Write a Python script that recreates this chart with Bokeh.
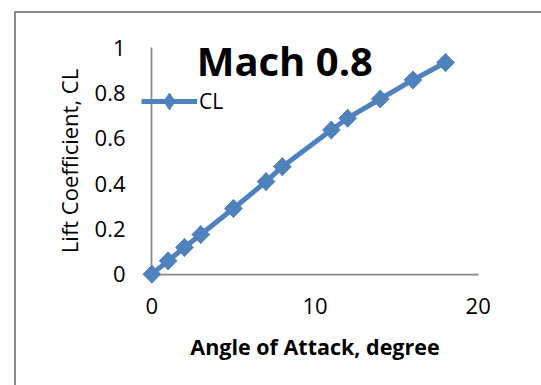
import math

from bokeh.embed import file_html
from bokeh.models import FixedTicker, Label, Legend, LegendItem, LinearAxis, Range1d
from bokeh.plotting import figure
from bokeh.resources import INLINE

# Lift curve at Mach 0.8
aoa_deg = [0, 1, 2, 3, 5, 7, 8, 11, 12, 14, 16, 18]
lift_coeff = [0, 0.059, 0.118, 0.175, 0.29, 0.409, 0.475, 0.637, 0.689, 0.774, 0.858, 0.935]

x_ticks = [0, 10, 20]
x_tick_labels = ["0", "10", "20"]
y_ticks = [0, 0.2, 0.4, 0.6, 0.8, 1]
y_tick_labels = ["0", "0.2", "0.4", "0.6", "0.8", "1"]

series_name = "CL"
chart_title = "Mach 0.8"
x_title = "Angle of Attack, degree"
y_title = "Lift Coefficient, CL"

BLUE = "#4f81bd"
AXIS_GREY = "#898989"
FONT = "Open Sans"

p = figure(
    frame_width=359,
    frame_height=249,
    x_range=Range1d(-1, 21),
    y_range=Range1d(-0.05, 1.05),
    min_border_left=119,
    min_border_right=47,
    min_border_top=23,
    min_border_bottom=100,
    output_backend="svg",
    toolbar_location=None,
)
p.margin = (11, 0, 0, 14)
p.styles = {"border-left": "2px solid #8c8c8c", "border-top": "2px solid #8c8c8c"}
p.outline_line_color = None
p.background_fill_color = "white"
p.border_fill_color = "white"
p.grid.visible = False

# labelled axes sit in the side panels; their own lines are hidden
xa = p.xaxis[0]
ya = p.yaxis[0]
xa.ticker = FixedTicker(ticks=x_ticks)
ya.ticker = FixedTicker(ticks=y_ticks)
xa.major_label_overrides = dict(zip(x_ticks, x_tick_labels))
ya.major_label_overrides = dict(zip(y_ticks, y_tick_labels))
xa.axis_label = x_title
ya.axis_label = y_title

for ax in (xa, ya):
    ax.axis_line_color = None
    ax.major_tick_line_color = None
    ax.minor_tick_line_color = None
    ax.major_tick_in = 0
    ax.major_tick_out = 0
    ax.minor_tick_in = 0
    ax.minor_tick_out = 0
    ax.major_label_text_font = FONT
    ax.major_label_text_font_size = "22px"
    ax.major_label_text_color = "black"
    ax.axis_label_text_font = FONT
    ax.axis_label_text_color = "black"
xa.major_label_standoff = 12
ya.major_label_standoff = 10
xa.axis_label_text_font_size = "21.5px"
xa.axis_label_text_font_style = "bold"
xa.axis_label_standoff = 15
ya.axis_label_text_font_size = "22px"
ya.axis_label_text_font_style = "normal"
ya.axis_label_standoff = 8

# axis lines crossing at the origin, limited to the data extent
x_line = LinearAxis(
    fixed_location=0, bounds=(0, 20), ticker=FixedTicker(ticks=[]),
    axis_line_color=AXIS_GREY, axis_line_width=1.75,
    major_tick_line_color=None, minor_tick_line_color=None,
    major_tick_out=0, minor_tick_out=0, major_label_text_alpha=0, level="underlay",
)
y_line = LinearAxis(
    fixed_location=0, bounds=(0, 1), ticker=FixedTicker(ticks=[]),
    axis_line_color=AXIS_GREY, axis_line_width=1.75,
    major_tick_line_color=None, minor_tick_line_color=None,
    major_tick_out=0, minor_tick_out=0, major_label_text_alpha=0, level="underlay",
)
p.add_layout(x_line, "above")
p.add_layout(y_line, "right")

line_r = p.line(aoa_deg, lift_coeff, line_color=BLUE, line_width=5)
diamond_r = p.scatter(
    aoa_deg, lift_coeff, marker="diamond", size=18,
    fill_color=BLUE, line_color=BLUE, line_width=1,
)
mark_r = p.scatter(
    aoa_deg, lift_coeff, marker="square", size=12.5, angle=math.pi / 4,
    fill_color=BLUE, line_color=BLUE, line_width=1,
)

legend = Legend(
    items=[LegendItem(label=series_name, renderers=[line_r, diamond_r])],
    location=(6, 163),
    glyph_width=56,
    glyph_height=42,
    label_height=42,
    label_standoff=2,
    padding=0,
    margin=0,
    spacing=0,
    border_line_color=None,
    background_fill_alpha=0,
    label_text_font=FONT,
    label_text_font_size="21px",
    label_text_color="black",
)
p.add_layout(legend)

p.add_layout(Label(
    x=8.15, y=0.945, text=chart_title, text_align="center", text_baseline="alphabetic",
    text_font=FONT, text_font_style="bold", text_font_size="40px", text_color="black",
))

open("out.html", "w").write(file_html(p, INLINE))
